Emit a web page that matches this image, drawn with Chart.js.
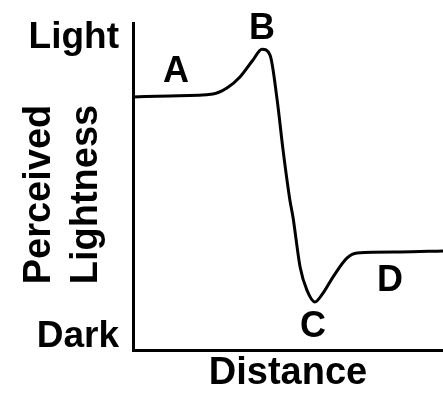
<!DOCTYPE html>
<html>
<head>
<meta charset="utf-8">
<script src="https://cdn.jsdelivr.net/npm/chart.js@4"></script>
<style>
  body { margin: 0; background: #fff; }
  #chart { display: block; }
</style>
</head>
<body>
<canvas id="chart" width="443" height="393"></canvas>
<script>
// lightness profile across the edge
const distance = [0, 11.9, 25.8, 30.3, 34.5, 38.7, 41.6, 44.2, 46.5, 48.4, 50.6, 51.6, 53.9, 56.1, 58.7, 61.3, 64.5, 69.0, 72.3, 86.1, 100];
const lightness = [77.4, 77.7, 78.3, 80.1, 83.5, 88.7, 92.0, 90.2, 76.5, 61.2, 45.9, 40.7, 25.4, 18.3, 14.7, 17.4, 22.3, 28.1, 29.7, 30.0, 30.3];

const yTickValues = [4, 95.5];
const yTickLabels = ["Dark", "Light"];
const yTitleLines = ["Perceived", "Lightness"];

// letters marking each part of the curve
const markNames = ["A", "B", "C", "D"];
const markX = [13.9, 41.6, 58.1, 82.9];
const markY = [85, 98, 7, 21];

const fontFamily = "'Liberation Sans', Arial, sans-serif";

const letterLabels = {
  id: "letterLabels",
  afterDatasetsDraw(chart) {
    const c = chart.ctx;
    const xs = chart.scales.x;
    const ys = chart.scales.y;
    c.save();
    c.font = "bold 36px " + fontFamily;
    c.fillStyle = "#000";
    c.textAlign = "center";
    c.textBaseline = "middle";
    for (let i = 0; i < markNames.length; i++) {
      c.fillText(markNames[i], xs.getPixelForValue(markX[i]), ys.getPixelForValue(markY[i]));
    }
    c.restore();
  },
};

// two-line rotated y title, sitting a little below the plot's middle
const yTitle = {
  id: "yTitle",
  afterDraw(chart) {
    const c = chart.ctx;
    const area = chart.chartArea;
    const midY = (area.top + area.bottom) / 2 + 8;
    const lineX = [area.left - 93, area.left - 46];
    c.save();
    c.font = "bold 38px " + fontFamily;
    c.fillStyle = "#000";
    c.textAlign = "center";
    c.textBaseline = "middle";
    yTitleLines.forEach((line, i) => {
      c.save();
      c.translate(lineX[i], midY);
      c.rotate(-Math.PI / 2);
      c.fillText(line, 0, 0);
      c.restore();
    });
    c.restore();
  },
};

const ctx = document.getElementById("chart");

new Chart(ctx, {
  type: "line",
  data: {
    datasets: [
      {
        data: distance.map((d, i) => ({ x: d, y: lightness[i] })),
        borderColor: "#000",
        borderWidth: 3,
        pointRadius: 0,
        cubicInterpolationMode: "monotone",
        clip: false,
      },
    ],
  },
  options: {
    responsive: false,
    animation: false,
    devicePixelRatio: 1,
    layout: { padding: { top: 23, right: 0, left: 0, bottom: 0 } },
    plugins: {
      legend: { display: false },
      tooltip: { enabled: false },
    },
    scales: {
      x: {
        type: "linear",
        min: 0,
        max: 100,
        grid: { display: false },
        border: { display: true, color: "#000", width: 3 },
        ticks: { display: false },
        title: {
          display: true,
          text: "Distance",
          color: "#000",
          font: { family: fontFamily, size: 38, weight: "bold", lineHeight: 1 },
          padding: { top: 0, bottom: 0 },
        },
        afterFit(scale) {
          scale.height = 43;
          scale.paddingLeft = 0;
          scale.paddingRight = 0;
        },
      },
      y: {
        type: "linear",
        min: 0,
        max: 100,
        grid: { display: false, drawTicks: false },
        border: { display: true, color: "#000", width: 3 },
        afterBuildTicks(scale) {
          scale.ticks = yTickValues.map((v) => ({ value: v }));
        },
        ticks: {
          color: "#000",
          padding: 14,
          font: { family: fontFamily, size: 37, weight: "bold" },
          callback: (value) => yTickLabels[yTickValues.indexOf(value)],
        },
        afterFit(scale) {
          scale.width = 133;
          // keep the plot top/bottom where the layout puts it
          scale.paddingTop = 0;
          scale.paddingBottom = 0;
        },
      },
    },
  },
  plugins: [letterLabels, yTitle],
});
</script>
</body>
</html>
